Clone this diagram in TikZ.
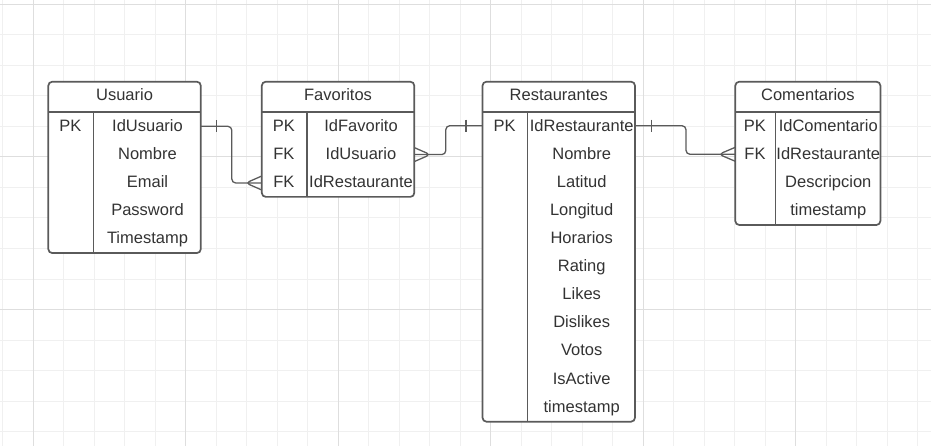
\documentclass[tikz,border=0pt]{standalone}
\usepackage{fontspec}
\setmainfont{Liberation Sans}
\usetikzlibrary{positioning}
\usepackage{array}
\usepackage{color, colortbl}
\definecolor{linec}{HTML}{5A5A5A}
\definecolor{textc}{HTML}{333333}
\definecolor{gridminor}{HTML}{F0F0F0}
\definecolor{gridmajor}{HTML}{DEDEDE}
\setlength{\tabcolsep}{0pt}
\setlength{\arrayrulewidth}{1.6pt}
\arrayrulecolor{linec}
\newcommand\rs{\rule[-9.6pt]{0pt}{28.1pt}}
\newcolumntype{K}[1]{>{\centering\arraybackslash\rs}p{#1}}
\newcommand\nh[1]{%
	\multicolumn{2}{c}{\rule[-10.8pt]{0pt}{29.3pt}#1}%
}
\newcommand\onebar[2]{%
	\draw[conn] ([xshift=#2,yshift=6pt]#1) -- ([xshift=#2,yshift=-6pt]#1);%
}
\newcommand\crowfoot[2]{%
	\draw[conn] ([yshift=7pt]#1) -- ([xshift=#2]#1) -- ([yshift=-7pt]#1);%
}

\begin{document}
\begin{tikzpicture}[x=1pt, y=-1pt,
	tbl/.style={draw=linec, line width=1.7pt, rounded corners=4pt, fill=white, inner sep=0pt, outer sep=0pt, text=textc, font=\fontsize{16.5}{20}\selectfont, anchor=north west},
	conn/.style={draw=linec, line width=1.3pt, rounded corners=4pt}]
\useasboundingbox (0,0) rectangle (931,446);
\foreach \i in {0,...,30}
	\draw[gridminor, line width=1pt] ({2.8+30.5*\i},0) -- ({2.8+30.5*\i},446);
\foreach \i in {0,...,14}
	\draw[gridminor, line width=1pt] (0,{4.5+30.5*\i}) -- (931,{4.5+30.5*\i});
\foreach \i in {0,...,5}
	\draw[gridmajor, line width=1pt] ({33.3+152.5*\i},0) -- ({33.3+152.5*\i},446);
\foreach \i in {0,...,2}
	\draw[gridmajor, line width=1pt] (0,{4.5+152.5*\i}) -- (931,{4.5+152.5*\i});

\node[tbl] (usu) at (48.3,81.7) {
	\begin{tabular}{K{44.3pt}|K{106.6pt}}
		\nh{Usuario}\\ \hline
		PK & IdUsuario\\
		& Nombre\\
		& Email\\
		& Password\\
		& Timestamp\\
	\end{tabular}
};
\node[tbl, right=61pt of usu.north east, anchor=north west] (fav) {
	\begin{tabular}{K{44.3pt}|K{106.6pt}}
		\nh{Favoritos}\\ \hline
		PK & IdFavorito\\
		FK & IdUsuario\\
		FK & IdRestaurante\\
	\end{tabular}
};
\node[tbl, right=68.2pt of fav.north east, anchor=north west] (rest) {
	\begin{tabular}{K{44.3pt}|K{106.6pt}}
		\nh{Restaurantes}\\ \hline
		PK & IdRestaurante\\
		& Nombre\\
		& Latitud\\
		& Longitud\\
		& Horarios\\
		& Rating\\
		& Likes\\
		& Dislikes\\
		& Votos\\
		& IsActive\\
		& timestamp\\
	\end{tabular}
};
\node[tbl, right=100.3pt of rest.north east, anchor=north west] (com) {
	\begin{tabular}{K{39.3pt}|K{104.2pt}}
		\nh{Comentarios}\\ \hline
		PK & IdComentario\\
		FK & IdRestaurante\\
		& Descripcion\\
		& timestamp\\
	\end{tabular}
};

\coordinate (usuPK) at ([yshift=-44.6pt]usu.north east);
\coordinate (favRes) at ([yshift=-101.3pt]fav.north west);
\coordinate (favUsu) at ([yshift=-72.9pt]fav.north east);
\coordinate (restIn) at ([yshift=-44pt]rest.north west);
\coordinate (restOut) at ([yshift=-44pt]rest.north east);
\coordinate (comRes) at ([yshift=-72.6pt]com.north west);

\draw[conn] (usuPK) -- ++(31,0) |- (favRes);
\onebar{usuPK}{16pt}
\crowfoot{favRes}{-16pt}

\draw[conn] (favUsu) -- ++(31.5,0) |- (restIn);
\crowfoot{favUsu}{16pt}
\onebar{restIn}{-16.5pt}

\draw[conn] (restOut) -- ++(51,0) |- (comRes);
\onebar{restOut}{16.5pt}
\crowfoot{comRes}{-16.5pt}
\end{tikzpicture}
\end{document}
